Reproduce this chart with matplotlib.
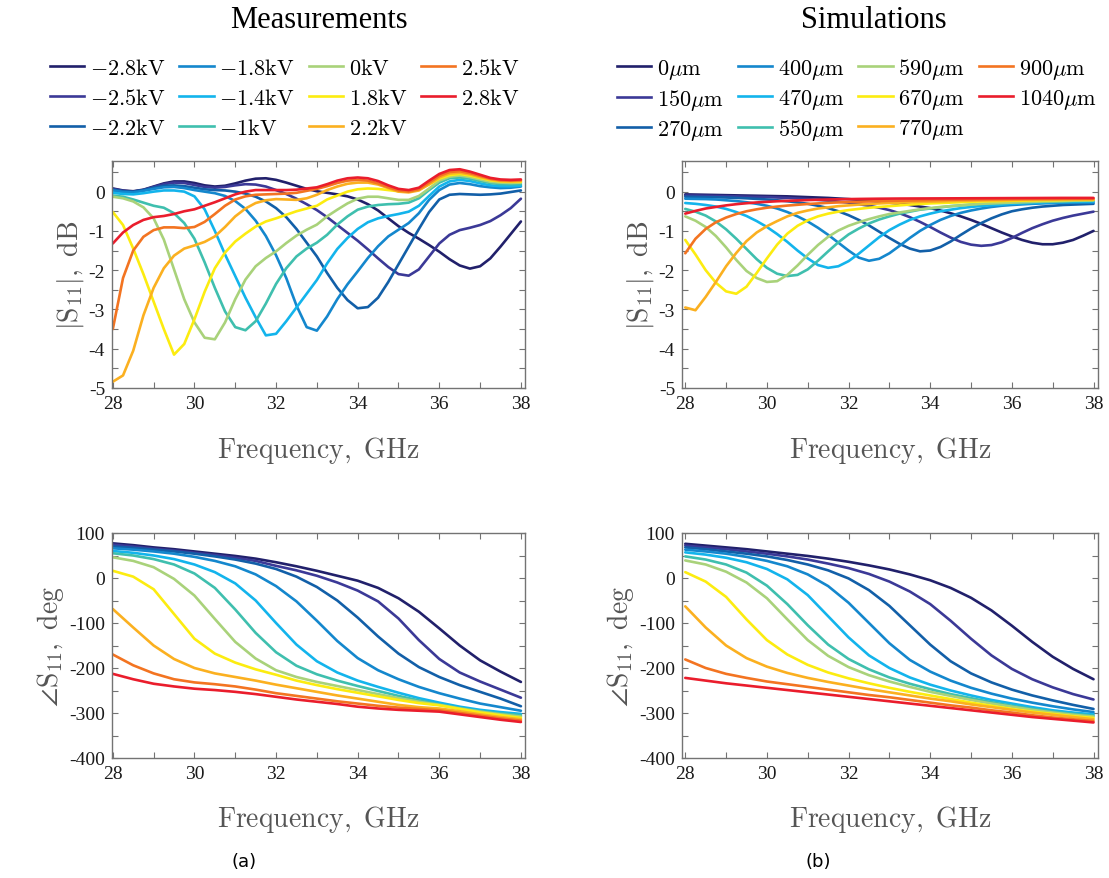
import numpy as np
import matplotlib
matplotlib.use("Agg")
import matplotlib.pyplot as plt
from matplotlib.ticker import MultipleLocator
from matplotlib.lines import Line2D

plt.rcParams["font.family"] = ["Liberation Serif", "DejaVu Serif"]
plt.rcParams["mathtext.fontset"] = "cm"
plt.rcParams["axes.unicode_minus"] = False

# ---------------------------------------------------------------- data
freq_mag = np.arange(28.0, 38.001, 0.25)   # GHz, |S11| sample grid
freq_ph = np.arange(28.0, 38.001, 0.5)     # GHz, phase sample grid

bias_labels = [r"$-2.8\mathrm{kV}$", r"$-2.5\mathrm{kV}$", r"$-2.2\mathrm{kV}$",
               r"$-1.8\mathrm{kV}$", r"$-1.4\mathrm{kV}$", r"$-1\mathrm{kV}$",
               r"$0\mathrm{kV}$", r"$1.8\mathrm{kV}$", r"$2.2\mathrm{kV}$",
               r"$2.5\mathrm{kV}$", r"$2.8\mathrm{kV}$"]
gap_labels = [r"$0\mu\mathrm{m}$", r"$150\mu\mathrm{m}$", r"$270\mu\mathrm{m}$",
              r"$400\mu\mathrm{m}$", r"$470\mu\mathrm{m}$", r"$550\mu\mathrm{m}$",
              r"$590\mu\mathrm{m}$", r"$670\mu\mathrm{m}$", r"$770\mu\mathrm{m}$",
              r"$900\mu\mathrm{m}$", r"$1040\mu\mathrm{m}$"]

colors = ["#21206b", "#3b3997", "#125fa8", "#1487cd", "#13b4ec", "#3fbfae",
          "#a9d27a", "#fcec10", "#fbb020", "#f37421", "#ea1d2c"]

# measured |S11| (dB) per bias voltage
m_n28 = [0.08, 0.03, 0.01, 0.05, 0.13, 0.21, 0.26, 0.26, 0.22, 0.16, 0.13, 0.15, 0.21, 0.28, 0.33, 0.34, 0.30, 0.23, 0.15, 0.07, 0.01, -0.03, -0.07, -0.12, -0.20, -0.32, -0.48, -0.68, -0.88, -1.05, -1.20, -1.36, -1.53, -1.72, -1.88, -1.96, -1.90, -1.70, -1.40, -1.08, -0.76]
m_n25 = [0.07, 0.02, 0.00, 0.04, 0.12, 0.19, 0.23, 0.22, 0.17, 0.12, 0.10, 0.12, 0.16, 0.19, 0.18, 0.13, 0.04, -0.06, -0.18, -0.32, -0.47, -0.65, -0.85, -1.05, -1.25, -1.47, -1.70, -1.92, -2.10, -2.14, -1.98, -1.65, -1.32, -1.10, -0.98, -0.92, -0.85, -0.75, -0.60, -0.42, -0.18]
m_n22 = [0.05, 0.01, 0.00, 0.04, 0.10, 0.15, 0.16, 0.14, 0.10, 0.06, 0.04, 0.03, 0.00, -0.05, -0.13, -0.25, -0.42, -0.65, -0.95, -1.30, -1.65, -2.07, -2.45, -2.76, -2.97, -2.94, -2.70, -2.30, -1.85, -1.40, -0.95, -0.52, -0.20, -0.08, -0.06, -0.07, -0.08, -0.07, -0.05, -0.01, 0.03]
m_n18 = [0.03, -0.01, -0.02, 0.02, 0.07, 0.11, 0.12, 0.09, 0.04, 0.00, -0.04, -0.11, -0.24, -0.44, -0.74, -1.13, -1.62, -2.20, -2.90, -3.45, -3.54, -3.18, -2.74, -2.36, -2.03, -1.69, -1.39, -1.14, -0.97, -0.80, -0.55, -0.21, 0.04, 0.18, 0.22, 0.19, 0.14, 0.11, 0.09, 0.10, 0.13]
m_n14 = [-0.03, -0.06, -0.07, -0.04, 0.00, 0.03, 0.03, 0.00, -0.12, -0.45, -1.00, -1.60, -2.15, -2.70, -3.20, -3.66, -3.62, -3.30, -2.95, -2.60, -2.25, -1.83, -1.46, -1.18, -0.95, -0.78, -0.68, -0.62, -0.57, -0.51, -0.36, -0.11, 0.13, 0.26, 0.30, 0.27, 0.21, 0.16, 0.14, 0.14, 0.15]
m_n10 = [-0.10, -0.13, -0.20, -0.28, -0.36, -0.41, -0.55, -0.80, -1.20, -1.80, -2.45, -3.05, -3.45, -3.53, -3.30, -2.85, -2.35, -1.95, -1.65, -1.45, -1.30, -1.10, -0.84, -0.63, -0.46, -0.38, -0.34, -0.32, -0.31, -0.28, -0.17, 0.04, 0.23, 0.34, 0.36, 0.33, 0.27, 0.22, 0.19, 0.19, 0.19]
m_0 = [-0.13, -0.17, -0.25, -0.40, -0.68, -1.22, -1.98, -2.74, -3.33, -3.72, -3.76, -3.33, -2.74, -2.24, -1.90, -1.69, -1.52, -1.31, -1.12, -0.97, -0.84, -0.63, -0.46, -0.30, -0.18, -0.13, -0.13, -0.17, -0.21, -0.21, -0.11, 0.08, 0.28, 0.38, 0.41, 0.37, 0.31, 0.25, 0.23, 0.22, 0.23]
m_18 = [-0.52, -0.85, -1.45, -2.10, -2.80, -3.50, -4.15, -3.88, -3.25, -2.55, -1.95, -1.55, -1.27, -1.07, -0.89, -0.76, -0.68, -0.59, -0.50, -0.43, -0.36, -0.20, -0.10, 0.00, 0.06, 0.08, 0.07, 0.04, 0.01, 0.00, 0.05, 0.18, 0.33, 0.42, 0.45, 0.41, 0.35, 0.29, 0.26, 0.25, 0.25]
m_22 = [-4.84, -4.68, -4.05, -3.15, -2.45, -1.95, -1.63, -1.45, -1.37, -1.28, -1.14, -0.90, -0.63, -0.43, -0.29, -0.22, -0.19, -0.20, -0.21, -0.17, -0.08, 0.04, 0.13, 0.20, 0.23, 0.23, 0.18, 0.09, 0.00, -0.02, 0.03, 0.19, 0.36, 0.46, 0.48, 0.44, 0.37, 0.31, 0.27, 0.26, 0.27]
m_25 = [-3.50, -2.20, -1.50, -1.15, -0.98, -0.91, -0.91, -0.93, -0.90, -0.77, -0.57, -0.36, -0.20, -0.12, -0.08, -0.07, -0.06, -0.05, -0.03, 0.02, 0.07, 0.14, 0.22, 0.28, 0.30, 0.28, 0.21, 0.11, 0.03, 0.00, 0.06, 0.23, 0.40, 0.50, 0.52, 0.47, 0.40, 0.33, 0.29, 0.28, 0.29]
m_28 = [-1.32, -1.04, -0.85, -0.72, -0.65, -0.62, -0.57, -0.50, -0.45, -0.36, -0.27, -0.17, -0.07, 0.00, 0.04, 0.04, 0.04, 0.04, 0.05, 0.08, 0.11, 0.19, 0.28, 0.34, 0.36, 0.34, 0.27, 0.16, 0.07, 0.04, 0.10, 0.28, 0.45, 0.55, 0.57, 0.51, 0.43, 0.35, 0.31, 0.30, 0.31]

# simulated |S11| (dB) per gap
s_0 = [-0.07, -0.075, -0.08, -0.085, -0.09, -0.095, -0.10, -0.105, -0.11, -0.115, -0.12, -0.13, -0.14, -0.15, -0.16, -0.175, -0.19, -0.21, -0.23, -0.255, -0.28, -0.31, -0.34, -0.38, -0.42, -0.48, -0.55, -0.63, -0.72, -0.82, -0.93, -1.04, -1.14, -1.23, -1.30, -1.34, -1.34, -1.30, -1.23, -1.12, -1.00]
s_150 = [-0.10, -0.10, -0.105, -0.11, -0.115, -0.12, -0.13, -0.135, -0.14, -0.15, -0.16, -0.175, -0.19, -0.21, -0.23, -0.255, -0.28, -0.32, -0.36, -0.41, -0.47, -0.55, -0.65, -0.77, -0.90, -1.04, -1.17, -1.28, -1.35, -1.38, -1.36, -1.29, -1.18, -1.05, -0.93, -0.83, -0.74, -0.67, -0.61, -0.56, -0.51]
s_270 = [-0.13, -0.135, -0.14, -0.145, -0.15, -0.16, -0.17, -0.185, -0.20, -0.22, -0.245, -0.275, -0.31, -0.36, -0.42, -0.50, -0.60, -0.72, -0.86, -1.02, -1.18, -1.33, -1.45, -1.52, -1.50, -1.41, -1.27, -1.10, -0.94, -0.80, -0.68, -0.58, -0.50, -0.45, -0.41, -0.38, -0.36, -0.34, -0.33, -0.32, -0.31]
s_400 = [-0.18, -0.185, -0.19, -0.20, -0.22, -0.24, -0.27, -0.31, -0.36, -0.43, -0.52, -0.63, -0.76, -0.92, -1.10, -1.30, -1.50, -1.68, -1.76, -1.71, -1.57, -1.38, -1.18, -1.00, -0.85, -0.72, -0.62, -0.54, -0.48, -0.43, -0.39, -0.36, -0.34, -0.325, -0.31, -0.30, -0.29, -0.285, -0.28, -0.28, -0.28]
s_470 = [-0.29, -0.31, -0.34, -0.38, -0.44, -0.52, -0.62, -0.75, -0.90, -1.08, -1.28, -1.50, -1.70, -1.87, -1.94, -1.90, -1.77, -1.58, -1.37, -1.16, -0.98, -0.84, -0.72, -0.63, -0.56, -0.50, -0.46, -0.42, -0.39, -0.365, -0.345, -0.33, -0.31, -0.30, -0.29, -0.28, -0.27, -0.265, -0.26, -0.255, -0.25]
s_550 = [-0.44, -0.51, -0.61, -0.76, -0.96, -1.20, -1.46, -1.72, -1.94, -2.09, -2.15, -2.12, -1.98, -1.76, -1.52, -1.29, -1.09, -0.94, -0.81, -0.71, -0.63, -0.56, -0.51, -0.46, -0.43, -0.40, -0.37, -0.35, -0.33, -0.315, -0.30, -0.29, -0.28, -0.27, -0.265, -0.26, -0.25, -0.245, -0.24, -0.235, -0.23]
s_590 = [-0.63, -0.74, -0.90, -1.13, -1.42, -1.74, -2.02, -2.20, -2.30, -2.28, -2.12, -1.88, -1.61, -1.36, -1.15, -0.99, -0.87, -0.78, -0.70, -0.63, -0.57, -0.53, -0.49, -0.45, -0.42, -0.39, -0.37, -0.35, -0.33, -0.31, -0.30, -0.29, -0.28, -0.27, -0.26, -0.25, -0.245, -0.24, -0.23, -0.225, -0.22]
s_670 = [-1.23, -1.60, -2.00, -2.32, -2.54, -2.60, -2.42, -2.07, -1.70, -1.35, -1.07, -0.87, -0.73, -0.63, -0.56, -0.51, -0.47, -0.44, -0.41, -0.39, -0.37, -0.35, -0.33, -0.315, -0.30, -0.29, -0.28, -0.27, -0.26, -0.25, -0.245, -0.24, -0.235, -0.23, -0.225, -0.22, -0.22, -0.215, -0.21, -0.21, -0.21]
s_770 = [-2.95, -3.02, -2.68, -2.30, -1.90, -1.56, -1.26, -1.04, -0.88, -0.75, -0.63, -0.54, -0.48, -0.43, -0.40, -0.37, -0.35, -0.33, -0.315, -0.30, -0.29, -0.28, -0.27, -0.26, -0.255, -0.25, -0.24, -0.235, -0.23, -0.225, -0.22, -0.22, -0.215, -0.21, -0.21, -0.205, -0.205, -0.20, -0.20, -0.20, -0.20]
s_900 = [-1.57, -1.20, -0.95, -0.78, -0.66, -0.57, -0.50, -0.45, -0.41, -0.38, -0.355, -0.335, -0.315, -0.30, -0.285, -0.275, -0.265, -0.258, -0.25, -0.242, -0.235, -0.23, -0.225, -0.22, -0.215, -0.21, -0.207, -0.203, -0.20, -0.197, -0.195, -0.192, -0.19, -0.188, -0.186, -0.185, -0.184, -0.183, -0.182, -0.181, -0.18]
s_1040 = [-0.56, -0.49, -0.43, -0.39, -0.35, -0.32, -0.295, -0.275, -0.26, -0.245, -0.235, -0.225, -0.215, -0.207, -0.20, -0.195, -0.19, -0.186, -0.183, -0.18, -0.178, -0.176, -0.175, -0.174, -0.173, -0.172, -0.171, -0.17, -0.169, -0.168, -0.167, -0.166, -0.165, -0.164, -0.163, -0.162, -0.161, -0.16, -0.16, -0.16, -0.16]

# measured phase of S11 (deg) per bias voltage
p_n28 = [77, 73, 68, 64, 59, 54, 49, 43, 35, 26, 16, 5, -6, -22, -45, -75, -112, -150, -183, -208, -231]
p_n25 = [74, 70, 65, 61, 56, 51, 45, 38, 27, 17, 5, -10, -28, -52, -90, -138, -180, -210, -230, -248, -266]
p_n22 = [70, 67, 63, 59, 54, 48, 41, 32, 20, 3, -20, -50, -88, -130, -168, -198, -220, -238, -253, -268, -285]
p_n18 = [66, 63, 59, 54, 47, 38, 26, 8, -18, -52, -95, -140, -178, -205, -225, -242, -256, -268, -279, -287, -295]
p_n14 = [60, 56, 50, 42, 30, 13, -12, -50, -100, -148, -185, -210, -228, -242, -255, -267, -277, -286, -293, -298, -302]
p_n10 = [55, 50, 42, 30, 10, -22, -70, -122, -165, -195, -214, -228, -240, -251, -262, -272, -281, -289, -296, -301, -305]
p_0 = [46, 38, 24, -2, -39, -91, -142, -179, -205, -220, -231, -240, -249, -258, -267, -275, -282, -290, -297, -303, -308]
p_18 = [16, 3, -25, -80, -135, -168, -188, -203, -215, -228, -238, -247, -255, -263, -271, -278, -283, -291, -299, -305, -311]
p_22 = [-69, -110, -150, -180, -200, -212, -220, -228, -237, -245, -253, -261, -268, -275, -282, -287, -290, -296, -303, -309, -314]
p_25 = [-170, -194, -212, -225, -232, -236, -241, -248, -256, -262, -268, -274, -279, -284, -288, -291, -294, -300, -306, -312, -317]
p_28 = [-213, -225, -235, -241, -246, -249, -253, -258, -264, -270, -275, -280, -286, -290, -293, -295, -297, -303, -309, -315, -320]

# simulated phase of S11 (deg) per gap
q_0 = [76, 72, 68, 64, 59, 54, 49, 43, 36, 28, 19, 8, -5, -22, -44, -72, -106, -142, -175, -202, -225]
q_150 = [72, 68, 64, 59, 54, 48, 41, 32, 22, 9, -8, -30, -58, -95, -135, -172, -202, -225, -243, -258, -270]
q_270 = [68, 64, 59, 54, 48, 40, 30, 17, -1, -27, -62, -105, -148, -185, -212, -232, -248, -261, -272, -282, -291]
q_400 = [63, 59, 54, 47, 38, 26, 8, -18, -55, -100, -145, -182, -208, -228, -244, -257, -268, -277, -285, -292, -298]
q_470 = [57, 52, 45, 35, 20, -3, -38, -85, -132, -172, -200, -221, -237, -250, -261, -271, -279, -287, -294, -299, -303]
q_550 = [48, 41, 30, 12, -17, -58, -105, -148, -180, -203, -221, -235, -247, -258, -267, -276, -284, -291, -297, -302, -306]
q_590 = [39, 30, 14, -10, -45, -92, -138, -173, -198, -216, -230, -242, -253, -262, -271, -279, -286, -293, -299, -304, -308]
q_670 = [13, -8, -42, -92, -138, -170, -193, -210, -223, -234, -244, -253, -261, -269, -277, -284, -291, -297, -302, -307, -311]
q_770 = [-63, -110, -150, -178, -197, -211, -222, -231, -239, -247, -254, -261, -268, -274, -281, -287, -293, -299, -304, -309, -314]
q_900 = [-181, -200, -213, -222, -230, -236, -242, -248, -254, -260, -265, -271, -277, -283, -288, -294, -299, -305, -310, -314, -318]
q_1040 = [-222, -228, -234, -239, -244, -249, -254, -259, -264, -269, -274, -279, -284, -289, -294, -299, -304, -309, -313, -317, -321]

meas_mag = [m_n28, m_n25, m_n22, m_n18, m_n14, m_n10, m_0, m_18, m_22, m_25, m_28]
sim_mag = [s_0, s_150, s_270, s_400, s_470, s_550, s_590, s_670, s_770, s_900, s_1040]
meas_ph = [p_n28, p_n25, p_n22, p_n18, p_n14, p_n10, p_0, p_18, p_22, p_25, p_28]
sim_ph = [q_0, q_150, q_270, q_400, q_470, q_550, q_590, q_670, q_770, q_900, q_1040]

# ---------------------------------------------------------------- figure
W, H = 1109, 879
fig = plt.figure(figsize=(W / 100, H / 100), dpi=100)


def box(x0, y0, x1, y1):
    return [x0 / W, 1 - y1 / H, (x1 - x0) / W, (y1 - y0) / H]


FRAME = "#737373"
LW = 1.9


def style(ax, xlim, ylim, ymaj, ymin):
    ax.set_xlim(*xlim)
    ax.set_ylim(*ylim)
    ax.xaxis.set_major_locator(MultipleLocator(2))
    ax.xaxis.set_minor_locator(MultipleLocator(1))
    ax.yaxis.set_major_locator(MultipleLocator(ymaj))
    ax.yaxis.set_minor_locator(MultipleLocator(ymin))
    ax.tick_params(which="both", direction="in", top=True, right=True,
                   length=4, width=0.8, color=FRAME, labelsize=14,
                   labelcolor="#1a1a1a", pad=5)
    for sp in ax.spines.values():
        sp.set_color(FRAME)
        sp.set_linewidth(1.0)
    ax.set_xlabel(r"$\mathrm{Frequency,\ GHz}$", fontsize=20, color="#555555")
    ax.xaxis.label.set_va("center")
    ax.xaxis.set_label_coords(0.5, -0.27)


def mag_axes(rect, xlim, series):
    ax = fig.add_axes(rect)
    for y, c in zip(series, colors):
        ax.plot(freq_mag, y, color=c, lw=LW, solid_capstyle="round",
                solid_joinstyle="round")
    style(ax, xlim, (-5, 0.78), 1, 0.5)
    ax.set_ylabel(r"$|\mathrm{S}_{11}|,\ \mathrm{dB}$", fontsize=20,
                  color="#555555", labelpad=2)
    return ax


def phase_axes(rect, xlim, series):
    ax = fig.add_axes(rect)
    for y, c in zip(series, colors):
        ax.plot(freq_ph, y, color=c, lw=LW, solid_capstyle="round",
                solid_joinstyle="round")
    style(ax, xlim, (-400, 100), 100, 50)
    ax.set_ylabel(r"$\angle\mathrm{S}_{11},\ \mathrm{deg}$", fontsize=20,
                  color="#555555", labelpad=2)
    return ax


mag_axes(box(112, 162, 525, 389), (27.98, 38.1), meas_mag)
mag_axes(box(682, 162, 1098, 389), (27.92, 38.11), sim_mag)
phase_axes(box(112, 534, 525, 759), (27.98, 38.1), meas_ph)
phase_axes(box(682, 534, 1098, 759), (27.92, 38.11), sim_ph)

# column titles
fig.text(319 / W, 1 - 20 / H, "Measurements", ha="center", va="center", fontsize=22)
fig.text(874 / W, 1 - 20 / H, "Simulations", ha="center", va="center", fontsize=22)


# legends above each column
def legend(labels, x0, top, spacing):
    handles = [Line2D([], [], color=c, lw=LW) for c in colors]
    fig.legend(handles, labels, loc="upper left", bbox_to_anchor=(x0 / W, 1 - top / H),
               ncol=4, frameon=False, fontsize=16, borderpad=0, borderaxespad=0,
               handlelength=1.55, handletextpad=0.25, columnspacing=0.62,
               labelspacing=spacing)


legend(bias_labels, 50, 59, 0.44)
legend(gap_labels, 617, 57, 0.27)

fig.text(244 / W, 1 - 862 / H, "(a)", ha="center", va="center", fontsize=13,
         family="DejaVu Sans")
fig.text(818 / W, 1 - 862 / H, "(b)", ha="center", va="center", fontsize=13,
         family="DejaVu Sans")

fig.savefig("out.png", dpi=100)
